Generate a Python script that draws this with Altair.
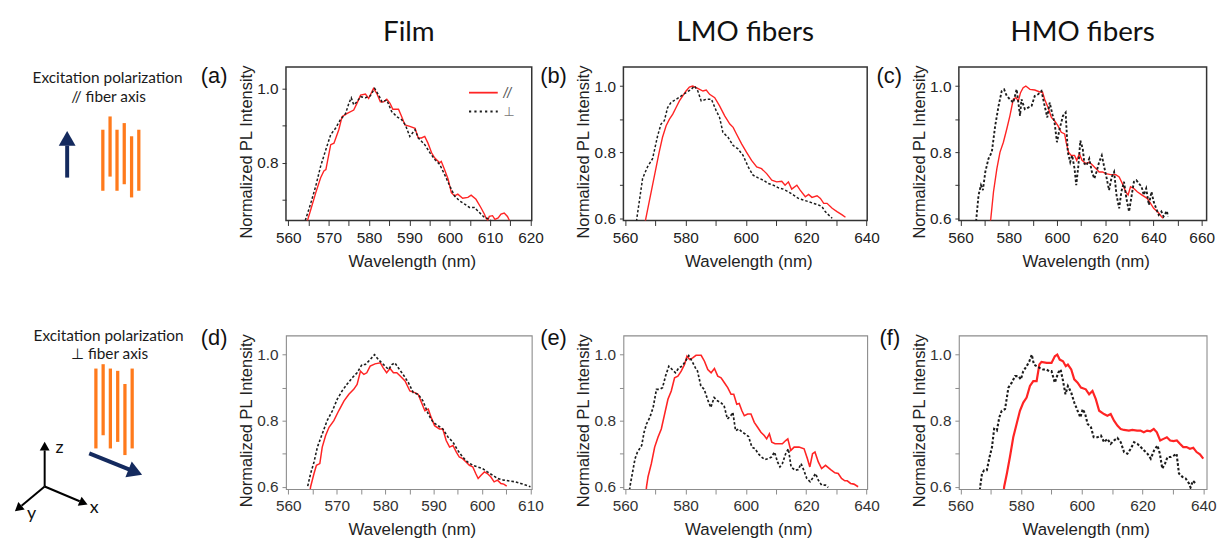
import altair as alt
import pandas as pd

# ---------------- data: (wavelength nm, normalized PL intensity) ----------------
A_PAR = [(564.6, 0.64), (565.6, 0.676), (566.8, 0.72), (568.0, 0.76), (568.8, 0.778), (569.3, 0.782),
         (570.1, 0.827), (570.5, 0.849), (571.3, 0.853), (572.5, 0.889), (573.3, 0.924), (574.6, 0.933),
         (576.2, 0.942), (577.0, 0.96), (577.9, 0.982), (579.1, 0.985), (579.9, 0.973), (581.1, 1.0),
         (581.9, 0.987), (582.8, 0.964), (583.6, 0.964), (584.4, 0.971), (585.2, 0.96), (585.9, 0.944),
         (587.3, 0.944), (588.1, 0.924), (588.9, 0.902), (590.1, 0.898), (591.4, 0.893), (592.2, 0.867),
         (593.0, 0.867), (593.8, 0.871), (594.6, 0.853), (595.5, 0.827), (596.3, 0.813), (597.5, 0.8),
         (597.9, 0.804), (598.7, 0.782), (599.6, 0.756), (600.4, 0.72), (601.2, 0.711), (602.0, 0.716),
         (603.2, 0.705), (604.5, 0.707), (605.3, 0.713), (606.5, 0.702), (607.7, 0.68), (608.6, 0.662),
         (609.0, 0.651), (609.4, 0.645), (609.8, 0.656), (610.6, 0.658), (611.2, 0.648), (612.0, 0.652),
         (612.7, 0.662), (613.5, 0.665), (614.3, 0.656), (614.8, 0.645)]
A_PERP = [(564.2, 0.645), (565.6, 0.693), (566.8, 0.738), (568.0, 0.791), (569.3, 0.836), (570.5, 0.876),
          (571.7, 0.893), (572.9, 0.916), (574.2, 0.933), (575.0, 0.96), (575.6, 0.975), (576.2, 0.956),
          (577.0, 0.964), (577.9, 0.978), (579.1, 0.975), (580.3, 0.98), (581.4, 1.0), (582.4, 0.982),
          (583.2, 0.964), (584.4, 0.969), (585.6, 0.938), (586.9, 0.924), (588.1, 0.916), (589.0, 0.902),
          (590.1, 0.871), (591.4, 0.889), (592.2, 0.867), (593.8, 0.849), (595.1, 0.827), (596.3, 0.809),
          (597.5, 0.796), (598.7, 0.769), (600.0, 0.738), (601.2, 0.711), (602.4, 0.698), (603.7, 0.689),
          (604.9, 0.68), (606.1, 0.68), (607.3, 0.667), (608.6, 0.653), (609.8, 0.649), (610.5, 0.64)]

B_PAR = [(566.7, 0.59), (566.9, 0.6), (568.0, 0.65), (569.1, 0.7), (570.2, 0.75), (571.3, 0.8), (572.4, 0.845),
         (573.6, 0.88), (574.7, 0.9), (575.8, 0.915), (576.9, 0.935), (578.0, 0.955), (579.1, 0.97),
         (580.2, 0.985), (581.3, 0.997), (582.4, 1.0), (583.6, 0.995), (584.7, 0.99), (585.8, 0.985),
         (586.9, 0.988), (588.0, 0.975), (589.7, 0.965), (591.3, 0.94), (593.0, 0.91), (594.7, 0.885),
         (595.8, 0.875), (596.9, 0.855), (598.6, 0.825), (600.2, 0.8), (601.9, 0.775), (603.6, 0.755),
         (605.2, 0.75), (606.9, 0.735), (608.6, 0.715), (610.2, 0.71), (611.9, 0.712), (613.0, 0.7),
         (614.1, 0.71), (615.2, 0.688), (616.9, 0.7), (618.0, 0.685), (619.7, 0.665), (620.8, 0.672),
         (621.9, 0.663), (623.6, 0.668), (624.7, 0.66), (625.8, 0.645), (626.9, 0.645), (628.6, 0.63),
         (630.2, 0.62), (631.9, 0.61), (633.0, 0.603)]
B_PERP = [(563.8, 0.59), (563.9, 0.6), (564.7, 0.65), (565.8, 0.72), (567.4, 0.755), (569.1, 0.78),
          (570.8, 0.85), (571.9, 0.885), (573.0, 0.895), (574.1, 0.935), (575.2, 0.95), (576.9, 0.96),
          (578.6, 0.97), (580.2, 0.98), (581.9, 0.99), (583.0, 1.0), (584.1, 0.985), (585.2, 0.955),
          (586.9, 0.96), (588.6, 0.96), (590.2, 0.925), (591.3, 0.905), (592.4, 0.86), (594.1, 0.845),
          (595.8, 0.82), (597.4, 0.81), (599.1, 0.79), (600.8, 0.755), (602.4, 0.73), (604.1, 0.722),
          (605.8, 0.715), (607.4, 0.705), (609.1, 0.7), (610.8, 0.692), (612.4, 0.688), (614.1, 0.68),
          (615.8, 0.67), (617.4, 0.66), (619.1, 0.655), (620.8, 0.65), (622.4, 0.645), (624.1, 0.64),
          (625.2, 0.635), (626.3, 0.62), (627.4, 0.61), (628.6, 0.6)]

C_PAR = [(572.4, 0.59), (572.6, 0.6), (573.7, 0.68), (575.1, 0.75), (576.4, 0.8), (577.8, 0.83), (579.2, 0.87),
         (580.5, 0.91), (581.9, 0.96), (583.0, 0.965), (584.0, 0.955), (584.9, 0.98), (586.0, 0.995),
         (587.1, 1.0), (588.8, 0.99), (590.8, 0.988), (592.9, 0.982), (594.0, 0.982), (594.9, 0.96),
         (596.3, 0.935), (597.7, 0.905), (599.0, 0.895), (600.4, 0.88), (601.8, 0.86), (603.2, 0.855),
         (603.8, 0.83), (604.8, 0.8), (605.9, 0.79), (607.3, 0.79), (608.2, 0.775), (609.3, 0.795),
         (610.4, 0.775), (612.1, 0.765), (613.4, 0.77), (614.8, 0.76), (616.2, 0.75), (617.5, 0.74),
         (618.9, 0.74), (620.3, 0.735), (622.3, 0.732), (624.4, 0.732), (625.8, 0.725), (627.1, 0.705),
         (628.5, 0.68), (629.5, 0.67), (630.5, 0.695), (631.9, 0.69), (633.3, 0.68), (635.3, 0.67),
         (637.4, 0.66), (638.8, 0.645), (640.1, 0.63), (641.9, 0.618), (643.3, 0.605), (644.0, 0.6)]
C_PERP = [(566.5, 0.59), (566.6, 0.6), (567.5, 0.67), (568.5, 0.7), (569.3, 0.685), (570.3, 0.74), (571.6, 0.78),
          (573.0, 0.8), (574.4, 0.88), (575.8, 0.94), (577.1, 0.985), (578.1, 0.99), (579.2, 0.97),
          (580.5, 0.96), (581.9, 0.95), (583.3, 0.99), (584.7, 0.91), (585.3, 0.96), (586.7, 0.93),
          (588.1, 0.935), (589.5, 0.94), (590.8, 0.97), (592.2, 0.975), (593.6, 0.985), (594.9, 0.94),
          (596.0, 0.905), (597.0, 0.95), (598.1, 0.915), (599.0, 0.89), (600.0, 0.83), (601.1, 0.87),
          (602.5, 0.91), (603.6, 0.92), (604.5, 0.8), (605.5, 0.77), (606.3, 0.79), (607.3, 0.75),
          (608.0, 0.7), (608.9, 0.76), (609.7, 0.835), (610.7, 0.81), (611.4, 0.765), (612.3, 0.76),
          (613.4, 0.78), (614.5, 0.74), (615.5, 0.72), (616.4, 0.74), (617.5, 0.77), (618.6, 0.79),
          (619.6, 0.755), (620.5, 0.725), (621.6, 0.685), (622.7, 0.725), (623.7, 0.74), (624.7, 0.67),
          (625.8, 0.63), (626.7, 0.68), (627.8, 0.71), (628.8, 0.66), (629.9, 0.62), (631.0, 0.67),
          (631.9, 0.71), (632.9, 0.715), (634.0, 0.705), (635.1, 0.695), (636.0, 0.67), (637.0, 0.69),
          (638.1, 0.64), (639.2, 0.68), (640.1, 0.65), (641.1, 0.63), (642.2, 0.61), (643.3, 0.62),
          (644.2, 0.605), (645.6, 0.622), (646.0, 0.605)]

D_PAR = [(564.5, 0.59), (564.6, 0.6), (565.3, 0.64), (565.8, 0.665), (566.5, 0.67), (567.0, 0.72), (567.7, 0.755),
         (568.4, 0.78), (569.4, 0.8), (570.4, 0.83), (571.5, 0.86), (572.5, 0.88), (573.5, 0.895),
         (574.2, 0.91), (574.9, 0.95), (575.6, 0.94), (576.2, 0.945), (576.9, 0.965), (577.9, 0.972),
         (579.0, 0.975), (579.6, 0.96), (580.3, 0.945), (581.0, 0.958), (581.7, 0.945), (582.4, 0.945),
         (583.1, 0.935), (584.1, 0.92), (585.1, 0.89), (586.1, 0.885), (586.8, 0.88), (587.5, 0.855),
         (588.2, 0.83), (588.9, 0.835), (589.5, 0.81), (590.2, 0.785), (591.2, 0.775), (591.9, 0.775),
         (592.6, 0.74), (593.3, 0.72), (594.0, 0.725), (594.7, 0.705), (595.3, 0.69), (596.0, 0.685),
         (596.7, 0.675), (597.4, 0.665), (598.1, 0.66), (598.7, 0.64), (599.2, 0.625), (599.8, 0.635),
         (600.5, 0.645), (601.1, 0.64), (601.8, 0.63), (602.5, 0.615), (603.2, 0.62), (603.9, 0.61),
         (604.5, 0.608), (605.1, 0.602)]
D_PERP = [(564.0, 0.602), (564.6, 0.64), (565.3, 0.675), (566.0, 0.72), (567.0, 0.76), (568.0, 0.8),
          (569.1, 0.83), (570.1, 0.865), (571.1, 0.89), (572.1, 0.91), (573.2, 0.93), (574.2, 0.945),
          (575.2, 0.97), (575.9, 0.97), (576.9, 0.985), (577.8, 1.0), (578.6, 0.985), (579.3, 0.975),
          (580.0, 0.965), (580.7, 0.955), (581.4, 0.97), (582.0, 0.975), (582.7, 0.96), (583.7, 0.94),
          (584.8, 0.915), (585.8, 0.885), (586.8, 0.88), (587.8, 0.86), (588.9, 0.82), (589.9, 0.795),
          (590.9, 0.785), (591.9, 0.775), (593.0, 0.75), (594.0, 0.735), (595.0, 0.71), (596.0, 0.69),
          (597.0, 0.675), (598.1, 0.665), (599.1, 0.66), (600.1, 0.655), (601.1, 0.645), (602.2, 0.635),
          (603.2, 0.625), (604.5, 0.62), (605.9, 0.617), (606.9, 0.615), (608.0, 0.61), (609.0, 0.605),
          (610.0, 0.6)]

E_PAR = [(567.0, 0.59), (567.1, 0.6), (567.6, 0.63), (568.7, 0.67), (569.8, 0.72), (570.9, 0.75), (572.0, 0.775),
         (573.1, 0.82), (574.2, 0.865), (575.3, 0.89), (576.4, 0.93), (577.5, 0.935), (578.6, 0.95),
         (579.7, 0.97), (580.5, 0.995), (581.4, 0.985), (582.4, 0.99), (583.5, 0.998), (585.2, 0.998),
         (586.3, 0.98), (587.4, 0.955), (588.5, 0.945), (589.6, 0.958), (590.7, 0.935), (591.8, 0.93),
         (592.9, 0.915), (594.0, 0.9), (595.1, 0.88), (596.0, 0.88), (597.0, 0.85), (597.8, 0.852),
         (598.7, 0.83), (599.5, 0.815), (600.6, 0.82), (601.7, 0.82), (602.8, 0.795), (603.9, 0.78),
         (605.0, 0.765), (606.1, 0.755), (606.9, 0.745), (607.8, 0.76), (608.6, 0.735), (609.7, 0.73),
         (611.0, 0.73), (612.1, 0.73), (613.2, 0.74), (613.9, 0.745), (614.9, 0.71), (616.0, 0.72),
         (617.6, 0.72), (619.3, 0.715), (620.4, 0.685), (621.2, 0.66), (622.1, 0.7), (622.9, 0.705),
         (624.0, 0.675), (625.1, 0.655), (626.4, 0.665), (628.1, 0.652), (629.5, 0.642), (630.6, 0.64),
         (631.7, 0.625), (632.8, 0.618), (633.6, 0.618), (634.7, 0.61), (635.8, 0.608), (637.2, 0.6)]
E_PERP = [(561.5, 0.59), (561.6, 0.6), (562.4, 0.64), (563.3, 0.685), (564.1, 0.705), (565.5, 0.725), (566.3, 0.765),
          (567.1, 0.79), (568.2, 0.81), (569.3, 0.84), (570.4, 0.895), (571.5, 0.895), (572.4, 0.9),
          (573.4, 0.935), (574.5, 0.965), (575.6, 0.955), (576.7, 0.945), (577.8, 0.96), (578.9, 0.965),
          (580.0, 0.98), (581.1, 0.997), (582.2, 0.98), (583.3, 0.96), (584.0, 0.95), (585.1, 0.905),
          (586.2, 0.895), (587.3, 0.865), (588.4, 0.84), (589.5, 0.87), (590.6, 0.86), (591.7, 0.855),
          (592.8, 0.845), (593.9, 0.805), (595.0, 0.815), (595.7, 0.825), (596.6, 0.77), (597.7, 0.775),
          (598.8, 0.765), (599.8, 0.76), (600.9, 0.752), (602.0, 0.72), (603.1, 0.715), (604.1, 0.7),
          (605.2, 0.69), (606.3, 0.682), (607.4, 0.685), (608.5, 0.69), (609.5, 0.705), (610.5, 0.675),
          (611.3, 0.66), (612.1, 0.67), (613.2, 0.7), (614.1, 0.715), (615.0, 0.66), (616.3, 0.65),
          (617.4, 0.652), (618.3, 0.67), (619.2, 0.65), (620.2, 0.625), (621.3, 0.615), (622.4, 0.63),
          (623.1, 0.64), (624.0, 0.62), (625.1, 0.605), (626.4, 0.605), (627.3, 0.598)]

F_PAR = [(574.3, 0.59), (574.4, 0.6), (575.3, 0.64), (576.3, 0.69), (577.4, 0.75), (578.5, 0.79), (579.6, 0.83),
         (580.7, 0.855), (581.8, 0.87), (582.9, 0.905), (584.0, 0.92), (585.1, 0.92), (586.0, 0.97),
         (586.7, 0.978), (588.4, 0.975), (590.0, 0.975), (591.1, 0.995), (591.9, 1.0), (592.7, 0.985),
         (593.8, 0.98), (594.7, 0.965), (595.4, 0.97), (596.5, 0.955), (597.5, 0.925), (598.6, 0.915),
         (599.7, 0.9), (601.3, 0.895), (602.4, 0.88), (603.5, 0.89), (604.6, 0.865), (605.7, 0.83),
         (607.3, 0.82), (608.4, 0.815), (609.5, 0.82), (610.6, 0.8), (611.7, 0.785), (612.8, 0.775),
         (613.9, 0.772), (615.5, 0.77), (616.6, 0.772), (618.2, 0.77), (619.3, 0.77), (620.4, 0.765),
         (621.5, 0.77), (622.6, 0.768), (623.7, 0.775), (624.7, 0.765), (625.8, 0.74), (626.9, 0.745),
         (628.0, 0.75), (629.1, 0.74), (630.2, 0.738), (631.3, 0.74), (632.3, 0.73), (633.4, 0.72),
         (634.5, 0.72), (635.6, 0.715), (636.7, 0.718), (637.8, 0.705), (638.9, 0.698), (640.0, 0.685)]
F_PERP = [(566.4, 0.59), (566.5, 0.6), (567.1, 0.64), (567.8, 0.65), (568.7, 0.65), (569.6, 0.69), (570.4, 0.72),
          (571.1, 0.775), (572.0, 0.77), (572.8, 0.81), (573.6, 0.83), (574.7, 0.835), (575.8, 0.9),
          (576.9, 0.915), (578.0, 0.935), (579.1, 0.935), (579.9, 0.925), (580.7, 0.95), (581.8, 0.965),
          (582.7, 0.98), (583.5, 1.0), (584.2, 0.97), (585.1, 0.965), (586.1, 0.96), (587.2, 0.955),
          (588.3, 0.955), (589.2, 0.95), (590.0, 0.95), (591.1, 0.915), (592.2, 0.945), (593.0, 0.955),
          (593.7, 0.925), (594.6, 0.88), (595.4, 0.905), (596.5, 0.885), (597.5, 0.855), (598.6, 0.83),
          (599.5, 0.81), (600.3, 0.835), (601.1, 0.82), (601.9, 0.79), (603.0, 0.78), (603.9, 0.75),
          (605.2, 0.75), (606.3, 0.755), (607.3, 0.735), (608.4, 0.745), (609.5, 0.73), (610.6, 0.74),
          (611.7, 0.748), (612.8, 0.735), (613.9, 0.705), (615.0, 0.7), (616.1, 0.715), (617.2, 0.735),
          (618.3, 0.73), (619.4, 0.72), (620.5, 0.71), (621.6, 0.7), (622.7, 0.685), (623.8, 0.71),
          (624.9, 0.725), (625.7, 0.7), (626.5, 0.655), (627.4, 0.67), (628.2, 0.69), (629.3, 0.69),
          (630.4, 0.695), (631.2, 0.7), (632.0, 0.64), (633.1, 0.63), (634.2, 0.625), (635.3, 0.61),
          (635.8, 0.598), (636.6, 0.618), (637.5, 0.61)]

COLUMN_TITLES = ["Film", "LMO fibers", "HMO fibers"]
PANEL_LABELS = ["(a)", "(b)", "(c)", "(d)", "(e)", "(f)"]
LEGEND_LABELS = ["//", "\u22a5"]
ROW_TEXT_1 = ["Excitation polarization", "// fiber axis"]
ROW_TEXT_2 = ["Excitation polarization", "\u22a5 fiber axis"]
AXIS_NAMES = ["z", "x", "y"]

# ---------------- schematic geometry (in the schematic cell's own units) ----------------
FIBERS_1 = [(90.7, 63.4, 125.0), (98.0, 50.0, 110.7), (105.0, 63.4, 125.0),
            (112.3, 56.7, 118.4), (119.7, 70.0, 131.7), (127.0, 63.4, 125.0)]
FIBERS_2 = [(83.7, 33.4, 114.0), (91.0, 29.0, 100.7), (98.3, 33.4, 114.0),
            (105.7, 35.7, 107.4), (113.0, 49.0, 120.7), (120.3, 33.4, 114.0)]
NAVY = "#142a5e"
ORANGE = "#ff7a1c"
SHAFTS_1 = [(54.7, 111.7, 54.7, 79.4, NAVY, 4.0)]
HEADS_1 = [(54.7, 72.1, 0.0, 289, NAVY)]
SHAFTS_2 = [(77.0, 119.0, 118.3, 135.7, NAVY, 4.0),
            (32.0, 152.4, 32.0, 116.0, "black", 2.0),
            (32.0, 152.4, 67.3, 167.3, "black", 2.0),
            (32.0, 152.4, 8.7, 171.9, "black", 2.0)]
HEADS_2 = [(123.5, 137.9, 112.1, 289, NAVY),
           (32.0, 111.7, 0.0, 100, "black"),
           (71.3, 169.0, 112.9, 100, "black"),
           (5.3, 174.6, 230.2, 100, "black")]
TEXTPOS_1 = [(95.5, 16.7), (96.5, 35.7)]
TEXTPOS_2 = [(96.5, 5.7), (97.5, 24.0)]
AXISPOS_2 = [(47.0, 119.0), (82.0, 179.0), (18.7, 185.7)]

# ---------------- layout constants ----------------
W_DIAG = 182.5
ROW_H = 155
COL_SP = 92.5
ROW_SP = 116
AX_FONT = "Liberation Sans"
TXT_FONT = "Lato"
RED = "#ff2424"
BLACK = "#1c1c1c"


def panel(par, perp, width, xdom, xticks, every, ydom, yticks, label, label_dx, label_dy,
          frame_color, frame_w, red_w, blk_w, title=None, legend=False, lab_color="#222"):
    par_df = pd.DataFrame(par, columns=["nm", "I"])
    perp_df = pd.DataFrame(perp, columns=["nm", "I"])
    x_enc = alt.X("nm:Q",
                  scale=alt.Scale(domain=xdom, nice=False, zero=False),
                  axis=alt.Axis(values=xticks, format="d",
                                labelExpr=f"round(datum.value) % {every} == 0 ? datum.label : ''",
                                title="Wavelength (nm)", titleX=width / 2 + 3, titleY=46,
                                titleAlign="center", titleBaseline="alphabetic",
                                tickColor=frame_color, tickSize=5, labelPadding=5,
                                labelColor=lab_color, labelFont=AX_FONT, labelFontSize=15.5,
                                titleFont=AX_FONT, titleFontSize=17))
    y_enc = alt.Y("I:Q",
                  scale=alt.Scale(domain=ydom, nice=False, zero=False),
                  axis=alt.Axis(values=yticks, format=".1f",
                                labelExpr="round(datum.value*10) % 2 == 0 ? datum.label : ''",
                                title="Normalized PL Intensity", titleAngle=270, titleX=-35,
                                titleY=85.5, titleAlign="center", titleBaseline="alphabetic",
                                tickColor=frame_color, tickSize=4, labelPadding=4,
                                labelColor=lab_color, labelFont=AX_FONT, labelFontSize=15.5,
                                titleFont=AX_FONT, titleFontSize=16.6))
    layers = [
        alt.Chart(par_df).mark_line(color=RED, strokeWidth=red_w, clip=True).encode(x=x_enc, y=y_enc),
        alt.Chart(perp_df).mark_line(color=BLACK, strokeWidth=blk_w, strokeDash=[2.6, 2.0],
                                     clip=True).encode(x=x_enc, y=y_enc),
        alt.Chart(pd.DataFrame({"t": [label]})).mark_text(
            font=AX_FONT, fontSize=22, align="left", baseline="alphabetic", color="#111"
        ).encode(text="t:N", x=alt.value(label_dx), y=alt.value(label_dy)),
    ]
    if title is not None:
        layers.append(alt.Chart(pd.DataFrame({"t": [title]})).mark_text(
            font=TXT_FONT, fontSize=28, align="center", baseline="alphabetic", color="#111"
        ).encode(text="t:N", x=alt.value(width / 2), y=alt.value(-26.3)))
    if legend:
        layers.append(alt.Chart(pd.DataFrame({"k": [0]})).mark_rule(color=RED, strokeWidth=1.8).encode(
            x=alt.value(184.7), x2=alt.value(213.7), y=alt.value(26)))
        layers.append(alt.Chart(pd.DataFrame({"k": [0]})).mark_rule(
            color=BLACK, strokeWidth=1.8, strokeDash=[2.2, 3.2]).encode(
            x=alt.value(184.7), x2=alt.value(213.7), y=alt.value(45)))
        layers.append(alt.Chart(pd.DataFrame({"t": [LEGEND_LABELS[0]]})).mark_text(
            font=AX_FONT, fontSize=14, fontStyle="italic", align="left", baseline="alphabetic",
            color="#555").encode(text="t:N", x=alt.value(219.5), y=alt.value(31.5)))
        layers.append(alt.Chart(pd.DataFrame({"t": [LEGEND_LABELS[1]]})).mark_text(
            font="DejaVu Sans", fontSize=13, align="left", baseline="alphabetic",
            color="#777").encode(text="t:N", x=alt.value(219.5), y=alt.value(50)))
    return alt.layer(*layers).properties(
        width=width, height=ROW_H,
        view=alt.ViewBackground(stroke=frame_color, strokeWidth=frame_w))


def diagram(fibers, shafts, heads, textpos, texts, axispos=None):
    xs = alt.Scale(domain=[0, W_DIAG], nice=False, zero=False)
    ys = alt.Scale(domain=[ROW_H, 0], nice=False, zero=False)
    fib = pd.DataFrame(fibers, columns=["x", "y", "y2"])
    sh = pd.DataFrame(shafts, columns=["x", "y", "x2", "y2", "c", "w"])
    hd = pd.DataFrame(heads, columns=["x", "y", "a", "s", "c"])
    tx = pd.DataFrame([(p[0], p[1], t) for p, t in zip(textpos, texts)], columns=["x", "y", "t"])
    layers = [
        alt.Chart(fib).mark_rule(color=ORANGE, strokeWidth=3.3).encode(
            x=alt.X("x:Q", scale=xs, axis=None), y=alt.Y("y:Q", scale=ys, axis=None), y2="y2:Q"),
        alt.Chart(sh).mark_rule().encode(
            x=alt.X("x:Q", scale=xs, axis=None), y=alt.Y("y:Q", scale=ys, axis=None),
            x2="x2:Q", y2="y2:Q", color=alt.Color("c:N", scale=None),
            strokeWidth=alt.StrokeWidth("w:Q", scale=None)),
        alt.Chart(hd).mark_point(shape="triangle-up", filled=True, opacity=1, strokeWidth=0).encode(
            x=alt.X("x:Q", scale=xs, axis=None), y=alt.Y("y:Q", scale=ys, axis=None),
            angle=alt.Angle("a:Q", scale=None), size=alt.Size("s:Q", scale=None),
            color=alt.Color("c:N", scale=None)),
        alt.Chart(tx).mark_text(font=TXT_FONT, fontSize=15.5, align="center", baseline="alphabetic",
                                color="#1a1a1a").encode(
            x=alt.X("x:Q", scale=xs, axis=None), y=alt.Y("y:Q", scale=ys, axis=None), text="t:N"),
    ]
    if axispos is not None:
        ax = pd.DataFrame([(p[0], p[1], t) for p, t in zip(axispos, AXIS_NAMES)], columns=["x", "y", "t"])
        layers.append(alt.Chart(ax).mark_text(font=TXT_FONT, fontSize=18, align="center",
                                              baseline="alphabetic", color="#111").encode(
            x=alt.X("x:Q", scale=xs, axis=None), y=alt.Y("y:Q", scale=ys, axis=None), text="t:N"))
    return alt.layer(*layers).properties(
        width=W_DIAG, height=ROW_H,
        view=alt.ViewBackground(stroke="transparent", strokeWidth=0))


Y_A = [0.7, 0.8, 0.9, 1.0]
Y_O = [0.6, 0.7, 0.8, 0.9, 1.0]
X_A = list(range(560, 621, 5))
X_D = list(range(560, 611, 5))
X_B = list(range(560, 641, 10))
X_C = list(range(560, 661, 10))

ROW1_FRAME = "#333333"
ROW2_FRAME = "#8c8c8c"

pa = panel(A_PAR, A_PERP, 248, [559.41, 620.32], X_A, 10, [0.645, 1.058], Y_A, PANEL_LABELS[0], -86, 16,
           ROW1_FRAME, 1.5, 1.4, 1.5, title=COLUMN_TITLES[0], legend=True)
pb = panel(B_PAR, B_PERP, 246, [559.45, 640.2], X_B, 20, [0.593, 1.058], Y_O, PANEL_LABELS[1], -84, 16,
           ROW1_FRAME, 1.5, 1.4, 1.5, title=COLUMN_TITLES[1])
pc = panel(C_PAR, C_PERP, 250, [559.34, 662.05], X_C, 20, [0.593, 1.058], Y_O, PANEL_LABELS[2], -83, 16,
           ROW1_FRAME, 1.5, 1.4, 1.9, title=COLUMN_TITLES[2])
pd_ = panel(D_PAR, D_PERP, 248, [559.51, 610.27], X_D, 10, [0.593, 1.058], Y_O, PANEL_LABELS[3], -86, 10,
            ROW2_FRAME, 1.1, 1.5, 1.6, lab_color="#333")
pe = panel(E_PAR, E_PERP, 246, [559.45, 640.2], X_B, 20, [0.593, 1.058], Y_O, PANEL_LABELS[4], -84, 10,
           ROW2_FRAME, 1.1, 1.6, 1.7, lab_color="#333")
pf = panel(F_PAR, F_PERP, 250, [559.48, 641.1], X_B, 20, [0.593, 1.058], Y_O, PANEL_LABELS[5], -80, 10,
           ROW2_FRAME, 1.1, 2.2, 2.1, lab_color="#333")

d1 = diagram(FIBERS_1, SHAFTS_1, HEADS_1, TEXTPOS_1, ROW_TEXT_1)
d2 = diagram(FIBERS_2, SHAFTS_2, HEADS_2, TEXTPOS_2, ROW_TEXT_2, AXISPOS_2)

chart = alt.concat(d1, pa, pb, pc, d2, pd_, pe, pf, columns=4,
                   spacing={"row": ROW_SP, "column": COL_SP}, bounds="flush").properties(
    padding={"left": 5, "top": 7, "right": 2, "bottom": 3},
    background="white",
).configure_axis(
    labelFont=AX_FONT, labelFontSize=15.5, titleFont=AX_FONT, titleFontSize=17,
    titleFontWeight="normal", titleColor="#222", grid=False, domain=False,
    labelFlush=False, labelOverlap=False, tickWidth=1,
).configure_view(strokeWidth=1)

chart.save("out.html", embed_options={"renderer": "svg", "actions": False})
